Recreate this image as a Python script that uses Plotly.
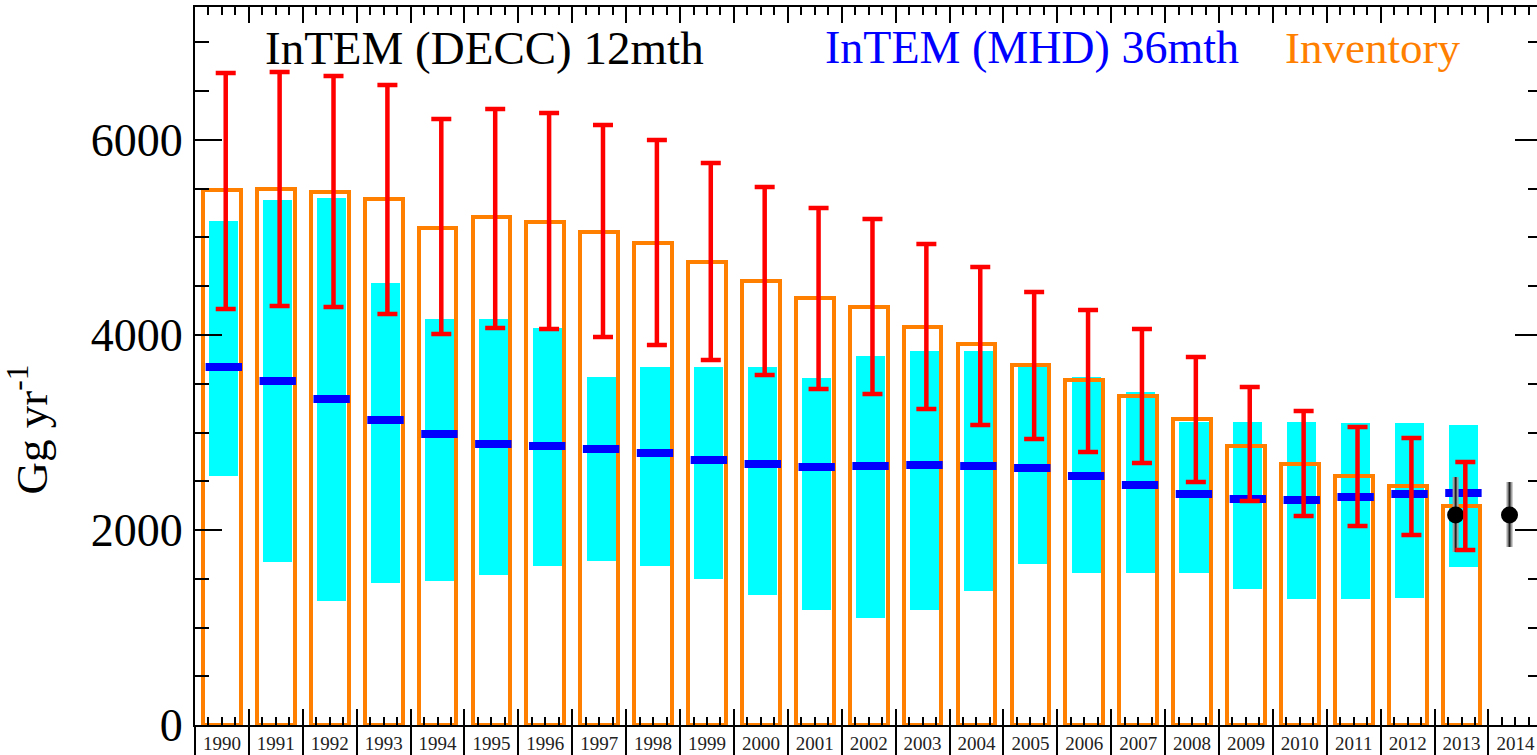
import plotly.graph_objects as go
import numpy as np

years = list(range(1990, 2014))
year_labels = [str(y) for y in range(1990, 2015)]

inventory = [5487, 5497, 5466, 5395, 5097, 5210, 5159, 5056, 4943, 4749, 4554, 4380,
             4287, 4082, 3908, 3692, 3538, 3374, 3138, 2861, 2677, 2554, 2451, 2246]
inv_upper = [6687, 6697, 6656, 6564, 6215, 6318, 6277, 6154, 6000, 5764, 5518, 5302,
             5190, 4933, 4697, 4441, 4256, 4061, 3774, 3467, 3220, 3056, 2944, 2697]
inv_lower = [4267, 4297, 4287, 4215, 4010, 4072, 4061, 3979, 3897, 3743, 3590, 3446,
             3395, 3241, 3077, 2933, 2800, 2687, 2492, 2297, 2144, 2041, 1949, 1795]

mhd_mean = [3672, 3528, 3343, 3128, 2985, 2882, 2861, 2831, 2790, 2718, 2677, 2646,
            2656, 2667, 2656, 2636, 2554, 2461, 2369, 2318, 2308, 2338, 2369, 2379]
mhd_upper = [5169, 5385, 5405, 4533, 4164, 4164, 4072, 3569, 3672, 3672, 3672, 3559,
             3785, 3836, 3836, 3700, 3569, 3415, 3108, 3108, 3108, 3097, 3097, 3077]
mhd_lower = [2554, 1672, 1272, 1456, 1477, 1538, 1631, 1682, 1631, 1497, 1333, 1179,
             1097, 1179, 1374, 1651, 1559, 1559, 1559, 1395, 1292, 1292, 1302, 1620]

decc_years = [2013, 2014]
decc_mean = [2154, 2154]
decc_upper = [2543, 2492]
decc_lower = [1774, 1826]

ORANGE = "#FF8000"
CYAN = "#00FFFF"
BLUE = "#0000FF"
RED = "#FF0000"
FONT = "Liberation Serif"

xc = np.array(years) + 0.5
inv = np.array(inventory)
mu = np.array(mhd_upper)
ml = np.array(mhd_lower)

fig = go.Figure()

# MHD uncertainty range (cyan)
fig.add_trace(go.Bar(x=xc + 0.035, y=mu - ml, base=ml, width=0.54,
                     marker=dict(color=CYAN, line=dict(width=0)), showlegend=False))
# MHD mean (blue dash)
fig.add_trace(go.Scatter(x=xc + 0.035, y=mhd_mean, mode="markers",
                         marker=dict(symbol="line-ew", size=26,
                                     line=dict(color=BLUE, width=8)),
                         showlegend=False))
# Inventory (orange outline)
fig.add_trace(go.Bar(x=xc, y=inventory, width=0.7,
                     marker=dict(color="rgba(0,0,0,0)", line=dict(color=ORANGE, width=4)),
                     showlegend=False))
# DECC (black dots with gray bars)
dxc = np.array(decc_years) + 0.5 - 0.11
dm = np.array(decc_mean)
fig.add_trace(go.Scatter(x=dxc, y=decc_mean, mode="markers",
                         marker=dict(size=1, color="rgba(0,0,0,0)"),
                         error_y=dict(type="data", symmetric=False,
                                      array=np.array(decc_upper) - dm,
                                      arrayminus=dm - np.array(decc_lower),
                                      color="#A0A0A0", thickness=6, width=0),
                         showlegend=False))
fig.add_trace(go.Scatter(x=dxc, y=decc_mean, mode="markers",
                         marker=dict(size=17, color="black"),
                         error_y=dict(type="data", symmetric=False,
                                      array=np.array(decc_upper) - dm,
                                      arrayminus=dm - np.array(decc_lower),
                                      color="#202020", thickness=2, width=0),
                         showlegend=False))
# Inventory uncertainty (red error bars)
fig.add_trace(go.Scatter(x=xc + 0.07, y=inventory, mode="markers",
                         marker=dict(size=1, color="rgba(0,0,0,0)"),
                         error_y=dict(type="data", symmetric=False,
                                      array=np.array(inv_upper) - inv,
                                      arrayminus=inv - np.array(inv_lower),
                                      color=RED, thickness=4.5, width=10),
                         showlegend=False))

xr = [1990, 2014.9]
fig.update_layout(
    width=1537, height=755,
    margin=dict(l=195, r=0, t=7, b=30, autoexpand=False),
    paper_bgcolor="white", plot_bgcolor="white",
    barmode="overlay", bargap=0,
    showlegend=False,
    font=dict(family=FONT, color="black"),
    xaxis=dict(range=xr, showgrid=False, zeroline=False, automargin=False,
               showline=True, linecolor="black", linewidth=2, mirror="ticks",
               tickmode="array", tickvals=list(range(1990, 2016)),
               ticks="inside", ticklen=16, tickwidth=2, tickcolor="black",
               showticklabels=False,
               minor=dict(dtick=0.25, tick0=1990, ticks="inside", ticklen=8,
                          tickwidth=1.5, tickcolor="black")),
    xaxis2=dict(range=xr, overlaying="x", anchor="y", side="bottom", automargin=False,
                showgrid=False, zeroline=False, showline=False,
                tickmode="array", tickvals=list(range(1990, 2016)),
                ticks="outside", ticklen=40, tickwidth=2, tickcolor="black",
                showticklabels=False),
    xaxis3=dict(range=xr, overlaying="x", anchor="y", side="bottom", automargin=False,
                showgrid=False, zeroline=False, showline=False,
                tickmode="array", tickvals=[y + 0.5 for y in range(1990, 2015)],
                ticktext=year_labels, ticks="", ticklabelstandoff=5,
                tickfont=dict(family=FONT, size=19, color="#222222")),
    yaxis=dict(range=[0, 7364], showgrid=False, zeroline=False, automargin=False,
               showline=True, linecolor="black", linewidth=2,
               tickmode="array", tickvals=[0, 2000, 4000, 6000],
               ticks="inside", ticklen=27, tickwidth=2, tickcolor="black",
               tickfont=dict(family=FONT, size=46, color="black"),
               ticklabelstandoff=1,
               minor=dict(dtick=500, tick0=0, ticks="inside", ticklen=14,
                          tickwidth=1.5, tickcolor="black")),
    yaxis2=dict(range=[0, 7364], overlaying="y", anchor="x", side="right", automargin=False,
                showgrid=False, zeroline=False, showline=False,
                tickmode="array", tickvals=[0, 2000, 4000, 6000],
                ticks="inside", ticklen=22, tickwidth=2, tickcolor="black",
                showticklabels=False,
                minor=dict(dtick=500, tick0=0, ticks="inside", ticklen=9,
                           tickwidth=1.5, tickcolor="black")),
)

# empty traces so the overlay axes are drawn
fig.add_trace(go.Scatter(x=[None], y=[None], xaxis="x2", yaxis="y", showlegend=False, hoverinfo="skip"))
fig.add_trace(go.Scatter(x=[None], y=[None], xaxis="x3", yaxis="y", showlegend=False, hoverinfo="skip"))
fig.add_trace(go.Scatter(x=[None], y=[None], xaxis="x", yaxis="y2", showlegend=False, hoverinfo="skip"))

fig.add_annotation(text="Gg yr<sup>-1</sup>", textangle=-90, showarrow=False,
                   xref="paper", yref="paper", x=-0.124, y=0.411,
                   xanchor="center", yanchor="middle",
                   font=dict(family=FONT, size=45, color="black"))
fig.add_annotation(text="InTEM (DECC) 12mth", showarrow=False,
                   xref="paper", yref="paper", x=0.0507, y=0.943,
                   xanchor="left", yanchor="middle",
                   font=dict(family=FONT, size=47, color="black"))
fig.add_annotation(text="InTEM (MHD) 36mth", showarrow=False,
                   xref="paper", yref="paper", x=0.7795, y=0.943,
                   xanchor="right", yanchor="middle",
                   font=dict(family=FONT, size=46, color=BLUE))
fig.add_annotation(text="Inventory", showarrow=False,
                   xref="paper", yref="paper", x=0.9441, y=0.943,
                   xanchor="right", yanchor="middle",
                   font=dict(family=FONT, size=45, color=ORANGE))

fig.write_html("out.html", config={"displayModeBar": False},
               post_script="document.body.style.margin='0';document.body.style.overflow='hidden';")
